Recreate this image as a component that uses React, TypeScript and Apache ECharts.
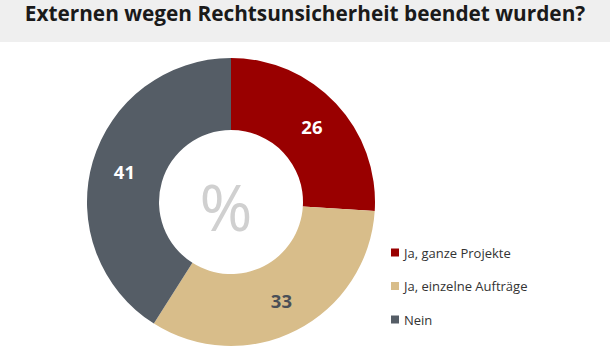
import React, { useEffect, useRef } from "react";
import * as echarts from "echarts";

const titleText = "Externen wegen Rechtsunsicherheit beendet wurden?";
const categories = ["Ja, ganze Projekte", "Ja, einzelne Aufträge", "Nein"];
const values = [26, 33, 41];
const colors = ["#990000", "#d8bd8a", "#555d66"];
const labelColors = ["#ffffff", "#4a4f57", "#ffffff"];

export default function App() {
  const ref = useRef<HTMLDivElement>(null);
  useEffect(() => {
    if (!ref.current) return;
    const chart = echarts.init(ref.current, undefined, { renderer: "svg" });
    chart.setOption({
      animation: false,
      textStyle: { fontFamily: "Open Sans" },
      graphic: [
        {
          type: "rect",
          left: 0,
          top: 0,
          shape: { width: 610, height: 42 },
          style: { fill: "#efefef" },
          z: -1,
        },
        {
          type: "text",
          left: "center",
          top: 2,
          style: {
            text: titleText,
            fontFamily: "Open Sans",
            fontWeight: "bold",
            fontSize: 20.8,
            fill: "#1a1a1a",
          },
        },
        {
          type: "text",
          x: 226,
          y: 206,
          style: {
            text: "%",
            fontFamily: "Open Sans",
            fontWeight: "normal",
            fontSize: 64,
            fill: "#d0d0d0",
            align: "center",
            verticalAlign: "middle",
          },
        },
      ],
      legend: {
        orient: "vertical",
        left: 386,
        top: 241,
        icon: "rect",
        itemWidth: 8,
        itemHeight: 8,
        itemGap: 20.5,
        textStyle: { fontSize: 13, color: "#333", fontFamily: "Open Sans" },
        data: categories,
      },
      series: [
        {
          type: "pie",
          center: [231, 202],
          radius: [72, 144],
          startAngle: 90,
          clockwise: true,
          label: {
            show: true,
            position: "inside",
            fontSize: 18.5,
            fontWeight: "bold",
            fontFamily: "Open Sans",
            formatter: "{c}",
          },
          labelLine: { show: false },
          emphasis: { disabled: true },
          data: categories.map((name, i) => ({
            name,
            value: values[i],
            itemStyle: { color: colors[i] },
            label: { color: labelColors[i] },
          })),
        },
      ],
    });
    return () => chart.dispose();
  }, []);
  return (
    <div
      ref={ref}
      style={{ position: "absolute", left: 0, top: 0, width: 610, height: 358 }}
    />
  );
}
